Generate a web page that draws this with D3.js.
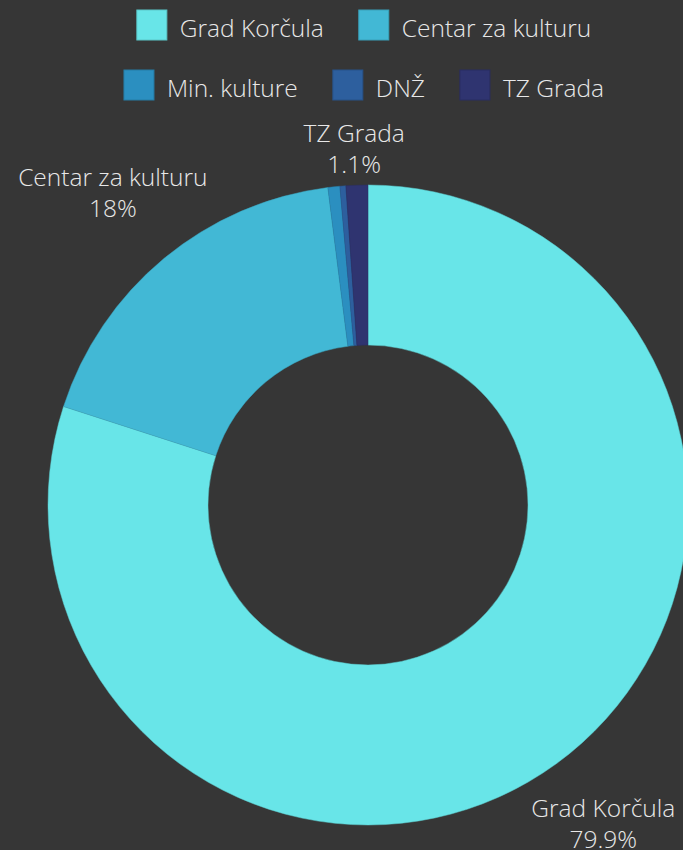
<!DOCTYPE html>
<html>
<head>
<meta charset="utf-8">
<script src="https://cdn.jsdelivr.net/npm/d3@7"></script>
<style>
  html, body { margin: 0; padding: 0; background: #363636; }
  svg { display: block; font-family: "Open Sans", sans-serif; }
</style>
</head>
<body>
<svg id="chart" width="683" height="850"></svg>
<script>
const labels = ["Grad Korčula", "Centar za kulturu", "Min. kulture", "DNŽ", "TZ Grada"];
const shares = [79.9, 18.0, 0.6, 0.3, 1.1];
const colors = ["#68e5e8", "#42b8d5", "#2b8fc0", "#2d5f9e", "#2f3470"];
const shownLabels = ["Grad Korčula", "Centar za kulturu", "TZ Grada"];
const legendRows = [["Grad Korčula", "Centar za kulturu"], ["Min. kulture", "DNŽ", "TZ Grada"]];

const width = 683, height = 850;
const cx = 368, cy = 505, outerR = 320, innerR = 160;
const fontSize = 24.5;

const svg = d3.select("#chart");
svg.append("rect").attr("width", width).attr("height", height).attr("fill", "#363636");

const data = labels.map((l, i) => ({ label: l, value: shares[i] }));
const color = d3.scaleOrdinal().domain(labels).range(colors);

const pie = d3.pie().value(d => d.value).sort(null);
const arc = d3.arc().innerRadius(innerR).outerRadius(outerR);
const arcs = pie(data);

const g = svg.append("g").attr("transform", `translate(${cx},${cy})`);
g.selectAll("path")
  .data(arcs)
  .enter()
  .append("path")
  .attr("d", arc)
  .attr("fill", d => color(d.data.label))
  .attr("stroke", d => d3.color(color(d.data.label)).darker(0.3))
  .attr("stroke-width", 0.5);

// legend, two centred rows
const legend = svg.append("g").attr("font-size", fontSize).attr("font-weight", 300).attr("fill", "#e8e8e8");
const sw = 30, gapText = 13, gapItem = 35, legendCx = 364;
legendRows.forEach((row, r) => {
  const rowG = legend.append("g");
  let x = 0;
  row.forEach(name => {
    rowG.append("rect")
      .attr("x", x).attr("y", 10 + r * 60)
      .attr("width", sw).attr("height", sw)
      .attr("fill", color(name))
      .attr("stroke", d3.color(color(name)).darker(0.4))
      .attr("stroke-width", 1);
    const t = rowG.append("text")
      .attr("x", x + sw + gapText)
      .attr("y", 37 + r * 60)
      .text(name);
    x += sw + gapText + t.node().getComputedTextLength() + gapItem;
  });
  const rowW = x - gapItem;
  rowG.attr("transform", `translate(${legendCx - rowW / 2},0)`);
});

// outside labels: name + percent, centred at a fixed radius, kept below the legend
const labelR = 400, lineH = 31, minTop = 122;
const fmt = v => (Math.round(v * 10) / 10) + "%";
arcs.filter(d => shownLabels.includes(d.data.label)).forEach(d => {
  const a = (d.startAngle + d.endAngle) / 2;
  const x = cx + labelR * Math.sin(a);
  let yc = cy - labelR * Math.cos(a);
  let top = yc - lineH;
  if (top < minTop) yc = minTop + lineH;
  const t = svg.append("text")
    .attr("x", x)
    .attr("text-anchor", "middle")
    .attr("font-size", fontSize)
    .attr("font-weight", 300)
    .attr("fill", "#e8e8e8");
  t.append("tspan").attr("x", x).attr("y", yc - 11).text(d.data.label);
  t.append("tspan").attr("x", x).attr("y", yc - 11 + lineH).text(fmt(d.data.value));
});
</script>
</body>
</html>
